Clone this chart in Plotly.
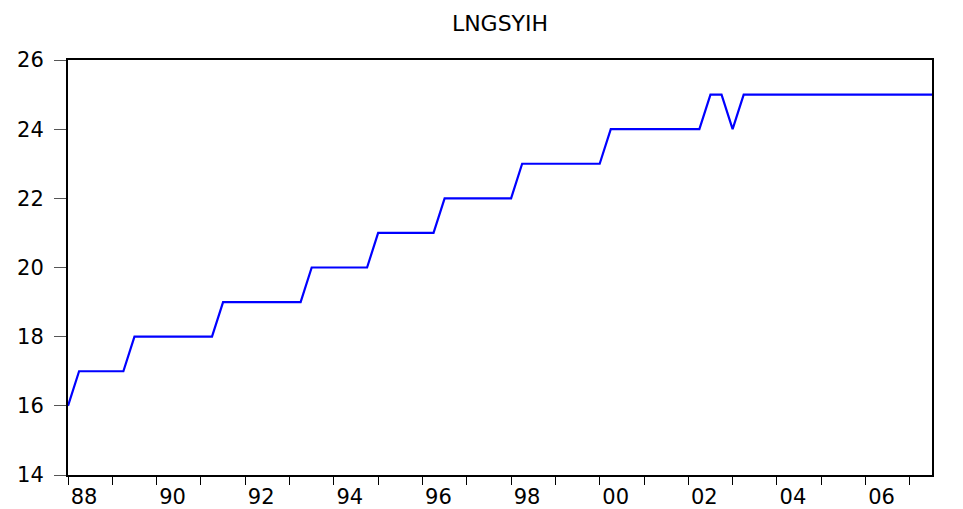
import plotly.graph_objects as go

# Quarterly observations, 1988Q1 .. 2007Q3
start_year = 1988
values = [16,
          17, 17, 17, 17, 17,
          18, 18, 18, 18, 18, 18, 18, 18,
          19, 19, 19, 19, 19, 19, 19, 19,
          20, 20, 20, 20, 20, 20,
          21, 21, 21, 21, 21, 21,
          22, 22, 22, 22, 22, 22, 22,
          23, 23, 23, 23, 23, 23, 23, 23,
          24, 24, 24, 24, 24, 24, 24, 24, 24,
          25, 25,
          24,
          25, 25, 25, 25, 25, 25, 25, 25, 25, 25, 25, 25, 25, 25, 25, 25, 25, 25]
periods = [start_year + i / 4 for i in range(len(values))]

tick_years = list(range(1988, 2008))
tick_labels = [f"{y % 100:02d}" if y % 2 == 0 else "" for y in tick_years]
y_ticks = [14, 16, 18, 20, 22, 24, 26]

fig = go.Figure()
fig.add_trace(go.Scatter(x=periods, y=values, mode="lines",
                         line=dict(color="#0000ff", width=2.2)))

FAMILY = "DejaVu Sans, Verdana, sans-serif"
font = dict(family=FAMILY, size=21, color="black")
W, H = 955, 501
fig.update_layout(
    width=W, height=H,
    margin=dict(l=60, r=31, t=52, b=34, autoexpand=False),
    paper_bgcolor="white", plot_bgcolor="white",
    showlegend=False,
    title=dict(text="LNGSYIH", x=0.5, xref="paper", xanchor="center",
               y=1 - 15 / H, yref="container", yanchor="middle",
               font=dict(family=FAMILY, size=22, color="black")),
    font=font,
)
fig.update_xaxes(range=[periods[0], periods[-1]], tickmode="array",
                 tickvals=tick_years, ticktext=tick_labels,
                 ticks="outside", ticklen=8, tickwidth=1, tickcolor="black",
                 ticklabelshift=16, ticklabelstandoff=-6,
                 showgrid=False, zeroline=False,
                 showline=True, linecolor="black", linewidth=2, mirror=True,
                 tickfont=font)
fig.update_yaxes(range=[14, 26], tickmode="array", tickvals=y_ticks,
                 ticks="outside", ticklen=12, tickwidth=1, tickcolor="#555555",
                 ticklabelstandoff=6,
                 showgrid=False, zeroline=False,
                 showline=True, linecolor="black", linewidth=2, mirror=True,
                 tickfont=font)

fig.write_html("out.html")
